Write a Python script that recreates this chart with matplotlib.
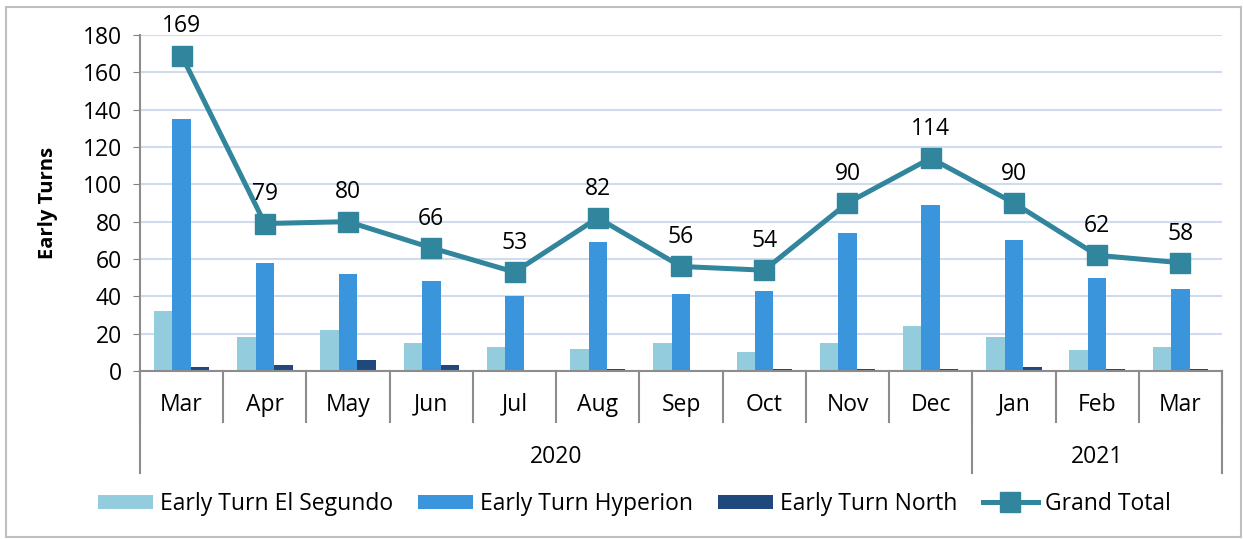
import matplotlib
matplotlib.use("Agg")
from matplotlib import pyplot as plt
from matplotlib.patches import Rectangle
import numpy as np

# data
months = ["Mar", "Apr", "May", "Jun", "Jul", "Aug", "Sep", "Oct", "Nov", "Dec", "Jan", "Feb", "Mar"]
years = ["2020", "2021"]
year_counts = [10, 3]
el_segundo = [32, 18, 22, 15, 13, 12, 15, 10, 15, 24, 18, 11, 13]
hyperion = [135, 58, 52, 48, 40, 69, 41, 43, 74, 89, 70, 50, 44]
north = [2, 3, 6, 3, 0, 1, 0, 1, 1, 1, 2, 1, 1]
grand_total = [169, 79, 80, 66, 53, 82, 56, 54, 90, 114, 90, 62, 58]

plt.rcParams['font.family'] = ['Open Sans', 'DejaVu Sans']
W, H = 1244, 539
fs = 16.5
fig = plt.figure(figsize=(W / 100, H / 100), dpi=100)

# outer frame
fig.patches.append(Rectangle((6 / W, 2 / H), 1235 / W, 530 / H, transform=fig.transFigure,
                             fill=False, edgecolor="#bfbfbf", linewidth=1.5))

ax = fig.add_axes([140 / W, 1 - 371 / H, (1222 - 140) / W, (371 - 35) / H])

x = np.arange(len(months))
bw = 0.222
b1 = ax.bar(x - bw, el_segundo, bw, color="#93CDDD", label="Early Turn El Segundo", zorder=2)
b2 = ax.bar(x, hyperion, bw, color="#3A95DC", label="Early Turn Hyperion", zorder=2)
b3 = ax.bar(x + bw, north, bw, color="#1F497D", label="Early Turn North", zorder=2)
ln, = ax.plot(x, grand_total, color="#31859C", linewidth=3.6, marker="s", markersize=15,
              label="Grand Total", zorder=3)

for xi, v in zip(x, grand_total):
    ax.annotate(str(v), (xi, v), xytext=(0, 21), textcoords="offset points",
                ha="center", va="center", fontsize=fs)

ax.set_xlim(-0.5, len(months) - 0.5)
ax.set_ylim(0, 180)
ax.set_yticks(range(0, 181, 20))
ax.tick_params(axis="y", labelsize=fs, length=5, color="#808080", pad=8)
ax.yaxis.grid(True, color="#D0DBEE", linewidth=1.5, zorder=0)
ax.set_axisbelow(True)
for s in ["top", "right"]:
    ax.spines[s].set_visible(False)
ax.spines["left"].set_color("#8c8c8c")
ax.spines["bottom"].set_color("#8c8c8c")
ax.spines["left"].set_linewidth(1.5)
ax.spines["bottom"].set_linewidth(1.5)
ax.set_xticks([])
ax.set_ylabel("Early Turns", fontsize=14.5, fontweight="bold", labelpad=18)

# two level category axis
tr = ax.get_xaxis_transform()
for xi, m in zip(x, months):
    ax.text(xi, -0.10, m, transform=tr, ha="center", va="center", fontsize=fs)
for b in np.arange(len(months) + 1) - 0.5:
    ax.plot([b, b], [0, -0.152], transform=tr, color="#8c8c8c", linewidth=1.5, clip_on=False)
start = -0.5
for yr, n in zip(years, year_counts):
    ax.plot([start, start], [0, -0.304], transform=tr, color="#8c8c8c", linewidth=1.5, clip_on=False)
    ax.text(start + n / 2, -0.256, yr, transform=tr, ha="center", va="center", fontsize=fs)
    start += n
ax.plot([start, start], [0, -0.304], transform=tr, color="#8c8c8c", linewidth=1.5, clip_on=False)

fig.legend([b1, b2, b3, ln], [b1.get_label(), b2.get_label(), b3.get_label(), ln.get_label()],
           loc="center", bbox_to_anchor=(0.51, 1 - 504 / H), ncol=4, frameon=False,
           fontsize=fs, handlelength=2.4, handleheight=0.6, handletextpad=0.3, columnspacing=1.1)

fig.savefig("out.png", dpi=100)
